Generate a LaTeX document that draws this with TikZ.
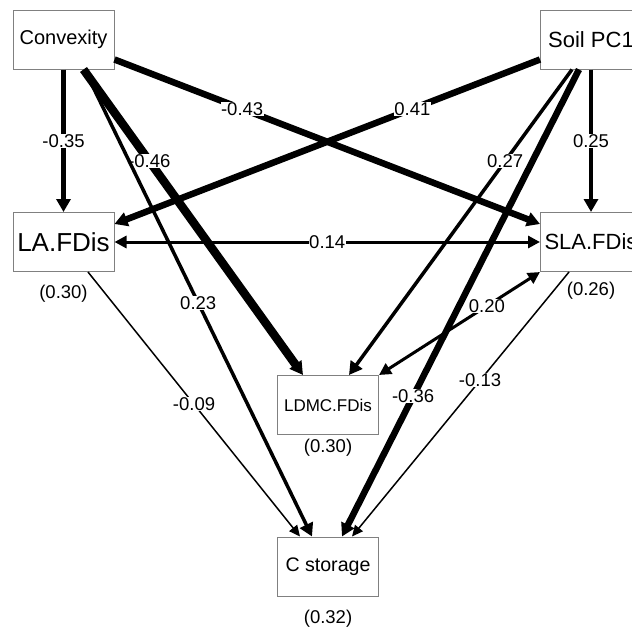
\documentclass[tikz,border=0pt]{standalone}
\usepackage{fontspec}
\setmainfont{Liberation Sans}
\usepackage{tikz}
\usetikzlibrary{arrows.meta, positioning, calc}

\begin{document}
\begin{tikzpicture}[x=1pt, y=-1pt,
        var/.style={draw=gray, line width=1pt, fill=white, minimum width=101pt, minimum height=59pt, inner sep=0pt, align=center},
        coef/.style={fill=white, inner sep=0.5pt, font=\fontsize{18.5}{20}\selectfont},
        rsq/.style={font=\fontsize{18.5}{20}\selectfont},
        arrow/.style={-{Triangle[length=13pt,width=14pt]}},
        thinarrow/.style={-{Triangle[length=11pt,width=10pt]}},
        biarrow/.style={{Triangle[length=12pt,width=12pt]}-{Triangle[length=12pt,width=12pt]}}
    ]
    \clip (0,0) rectangle (632,629);

    % Exogenous variables
    \node[var, font=\fontsize{20}{24}\selectfont] (conv) at (63.5, 39.5) {Convexity};
    \node[var, font=\fontsize{22}{26}\selectfont] (soil) at (591, 39.5) {Soil PC1};

    % Trait dispersion
    \node[var, font=\fontsize{26}{30}\selectfont] (la) at (63.5, 242) {LA.FDis};
    \node[var, font=\fontsize{22}{26}\selectfont] (sla) at (591, 242) {SLA.FDis};
    \node[var, font=\fontsize{17}{20}\selectfont] (ldmc) at (328, 405) {LDMC.FDis};

    % Response
    \node[var, font=\fontsize{19.6}{24}\selectfont] (cst) at (328, 566.5) {C storage};

    % R squared
    \node[rsq] (la-r2) at ([yshift=-22pt]la.south) {(0.30)};
    \node[rsq] (sla-r2) at ([yshift=-19pt]sla.south) {(0.26)};
    \node[rsq] (ldmc-r2) at ([yshift=-13pt]ldmc.south) {(0.30)};
    \node[rsq] (cst-r2) at ([yshift=-22pt]cst.south) {(0.32)};

    % Paths from Convexity
    \draw[arrow, line width=5pt] (conv.south) -- node[coef] {-0.35} (la.north);
    \draw[arrow, line width=6.5pt] ([yshift=-20pt]conv.east) -- node[coef, pos=0.3] {-0.43} ([yshift=18pt]sla.west);
    \draw[arrow, line width=8.5pt] ([xshift=20pt]conv.south) -- node[coef, pos=0.3] {-0.46} ([xshift=-25pt]ldmc.north);
    \draw[arrow, line width=3.5pt] ([xshift=21pt]conv.south) -- node[coef, pos=0.5] {0.23} ([xshift=-16pt]cst.north);

    % Paths from Soil PC1
    \draw[arrow, line width=4pt] (soil.south) -- node[coef] {0.25} (sla.north);
    \draw[arrow, line width=6.5pt] ([yshift=-20pt]soil.west) -- node[coef, pos=0.3] {0.41} ([yshift=18pt]la.east);
    \draw[arrow, line width=3.5pt] ([xshift=-19pt]soil.south) -- node[coef, pos=0.3] {0.27} ([xshift=21pt]ldmc.north);
    \draw[arrow, line width=6.5pt] ([xshift=-12pt]soil.south) -- node[coef, pos=0.7] {-0.36} ([xshift=14pt]cst.north);

    % Covariances
    \draw[biarrow, line width=3pt] (la.east) -- node[coef] {0.14} (sla.west);
    \draw[biarrow, line width=3pt] (sla.south west) -- node[coef, pos=0.33] {0.20} (ldmc.north east);

    % Paths to C storage
    \draw[thinarrow, line width=1.5pt] ([xshift=24.5pt]la.south) -- node[coef] {-0.09} ([xshift=-28pt]cst.north);
    \draw[thinarrow, line width=1.5pt] ([xshift=-22pt]sla.south) -- node[coef, pos=0.41] {-0.13} ([xshift=24pt]cst.north);

\end{tikzpicture}
\end{document}
